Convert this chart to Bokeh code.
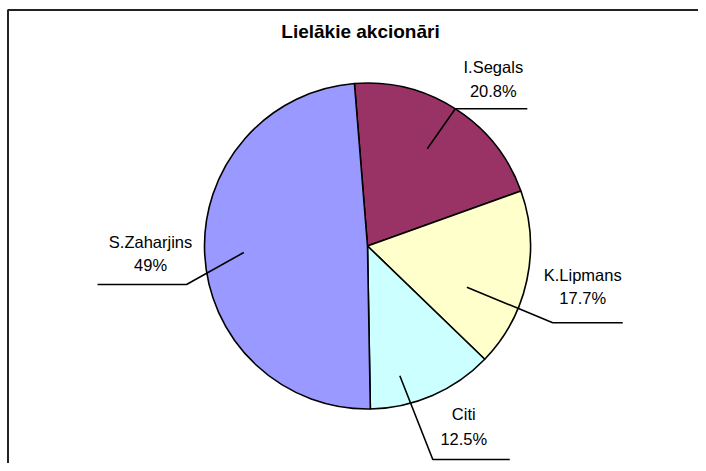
import numpy as np
from bokeh.plotting import figure
from bokeh.models import Range1d, ColumnDataSource
from bokeh.embed import file_html
from bokeh.resources import INLINE
from bokeh.core.properties import value

# ---- data ----
names = ["I.Segals", "K.Lipmans", "Citi", "S.Zaharjins"]
shares = [20.8, 17.7, 12.5, 49.0]
pct_labels = ["20.8%", "17.7%", "12.5%", "49%"]
colors = ["#993366", "#FFFFCC", "#CCFFFF", "#9999FF"]
title_text = "Lielākie akcionāri"

# ---- layout ----
W, H = 698, 463
CX, CY, R = 367.0, 217.5, 163.0
START_DEG = 94.6
FONT = "Liberation Sans"
FRAME_LEFT, FRAME_TOP = 7.5, H - 9.5
# leader layout: inner (deg, r-frac), elbow (deg, r-frac), tail dx, label dx, line1 dy, line2 dy
leader_layout = {
    "I.Segals":    ((58.4, 0.70), (57.4, 1.0), 72, 38, 42, 18),
    "K.Lipmans":   ((-22.5, 0.66), (-22.5, 1.23), 70, 30, 48, 25),
    "Citi":        ((-76.0, 0.82), (-73.0, 1.37), 77, 31, 46, 21),
    "S.Zaharjins": ((183.0, 0.76), (192.0, 1.135), -89, -36, 42, 19),
}

p = figure(width=W, height=H, x_range=Range1d(0, W), y_range=Range1d(0, H),
           output_backend="svg", toolbar_location=None, min_border=0,
           x_axis_type=None, y_axis_type=None)
p.grid.visible = False
p.outline_line_color = None
p.background_fill_color = "white"
p.border_fill_color = "white"

# chart-area frame (left and top edges visible; right/bottom are cut off)
p.line(x=[FRAME_LEFT, FRAME_LEFT, W + 5], y=[-5, FRAME_TOP, FRAME_TOP],
       line_color="#222222", line_width=2)

tot = float(sum(shares))
cum = np.cumsum([0.0] + shares) / tot
starts = [np.radians(START_DEG - cum[i + 1] * 360) for i in range(len(shares))]
ends = [np.radians(START_DEG - cum[i] * 360) for i in range(len(shares))]
src = ColumnDataSource(dict(name=names, start=starts, end=ends, color=colors))
p.wedge(x=CX, y=CY, radius=R, start_angle="start", end_angle="end",
        fill_color="color", line_color="black", line_width=1.6, source=src)


def polar(deg, frac):
    a = np.radians(deg)
    return CX + frac * R * np.cos(a), CY + frac * R * np.sin(a)


xs, ys, tx, ty1, ty2 = [], [], [], [], []
for n in names:
    (ia, ir), (ea, er), tail, ldx, d1, d2 = leader_layout[n]
    x0, y0 = polar(ia, ir)
    x1, y1 = polar(ea, er)
    xs.append([x0, x1, x1 + tail])
    ys.append([y0, y1, y1])
    tx.append(x1 + ldx)
    ty1.append(y1 + d1)
    ty2.append(y1 + d2)

p.multi_line(xs=xs, ys=ys, line_color="black", line_width=1.6)
p.text(x=tx, y=ty1, text=names, text_font=value(FONT), text_font_size="16.5px",
       text_align="center", text_baseline="middle", text_color="black")
p.text(x=tx, y=ty2, text=pct_labels, text_font=value(FONT), text_font_size="16.5px",
       text_align="center", text_baseline="middle", text_color="black")
p.text(x=[360], y=[432], text=[title_text], text_font=value(FONT), text_font_size="19px",
       text_font_style="bold", text_align="center", text_baseline="middle", text_color="black")

open("out.html", "w").write(file_html(p, INLINE))
